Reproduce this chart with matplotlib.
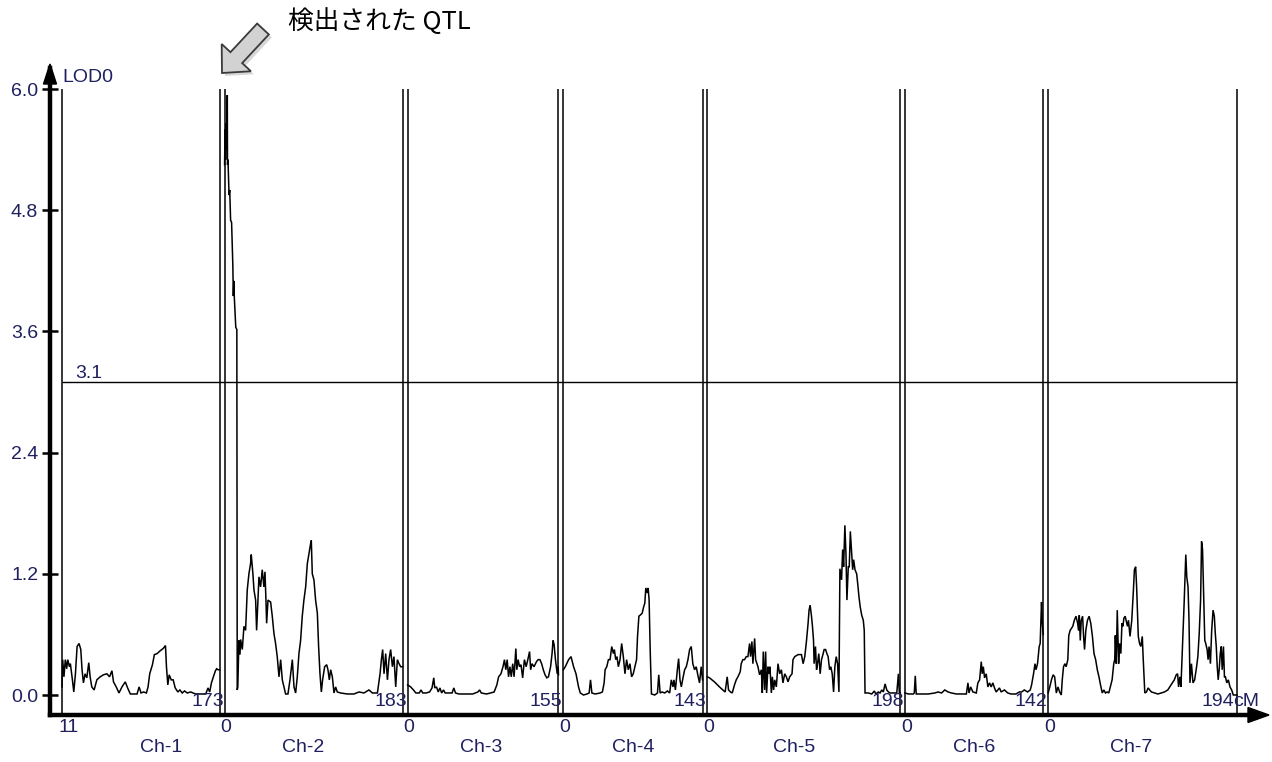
import matplotlib
matplotlib.use("Agg")
import matplotlib.pyplot as plt
from matplotlib.patches import Polygon, FancyArrow
from matplotlib.transforms import IdentityTransform

plt.rcParams['font.family'] = ['Liberation Sans', 'DejaVu Sans']

# ---------------- data ----------------
chrom_names = ['Ch-1', 'Ch-2', 'Ch-3', 'Ch-4', 'Ch-5', 'Ch-6', 'Ch-7']
chrom_start = [11, 0, 0, 0, 0, 0, 0]
chrom_end = [173, 183, 155, 143, 198, 142, 194]
threshold = 3.1
y_ticks = [0.0, 1.2, 2.4, 3.6, 4.8, 6.0]
y_tick_labels = ['0.0', '1.2', '2.4', '3.6', '4.8', '6.0']
annotation_text = '検出された QTL'

# (cM, LOD) profiles per chromosome
ch1 = [(11, 0.08), (11.7, 0.35), (13, 0.18), (14.4, 0.35), (15.8, 0.26), (16.9, 0.35), (18.6, 0.28),
       (19.6, 0.31), (21.7, 0.15), (23.1, 0.03), (24.8, 0.21), (26.5, 0.48), (28.5, 0.51), (30.3, 0.45),
       (31.6, 0.25), (33, 0.12), (34.7, 0.21), (36.5, 0.17), (38.5, 0.32), (39.9, 0.18), (41.6, 0.08),
       (44, 0.05), (46.8, 0.15), (50.2, 0.18), (53.6, 0.20), (57.1, 0.21), (59.8, 0.18), (62.3, 0.24),
       (63.9, 0.13), (66.7, 0.08), (69.5, 0.02), (72.6, 0.08), (76, 0.13), (78.4, 0.07), (81.2, 0.01),
       (88.1, 0.01), (90.2, 0.08), (92.2, 0.02), (94.9, 0.03), (97.7, 0.02), (99.4, 0.08), (101.1, 0.21),
       (103.9, 0.30), (105.9, 0.40), (108.7, 0.41), (112.1, 0.44), (114.9, 0.46), (117.3, 0.49),
       (118.3, 0.28), (119.7, 0.10), (121.1, 0.20), (123.2, 0.15), (125.2, 0.15), (127.3, 0.07),
       (130, 0.03), (132.1, 0.05), (134.5, 0.02), (136.9, 0.04), (139.7, 0.02), (143.1, 0.03),
       (148.3, 0.01), (153.4, 0.01), (158.6, 0.01), (161, 0.07), (162.7, 0.03), (164.5, 0.12),
       (166.5, 0.18), (168.6, 0.24), (169.9, 0.26), (171.3, 0.25), (173, 0.25)]

ch2 = [(0, 5.25), (0.5, 5.6), (1.0, 5.3), (1.5, 5.66), (2.0, 5.4), (2.8, 5.94), (3.0, 5.25), (3.5, 5.3),
       (4.6, 4.95), (5.3, 5.0), (6.2, 4.7), (7.2, 4.68), (8.5, 4.25), (9.0, 3.95), (9.5, 4.1), (10.0, 3.94),
       (11.5, 3.64), (12.6, 3.62), (13.0, 0.05), (13.6, 0.08), (14.7, 0.54), (15.8, 0.40), (16.5, 0.55),
       (18.2, 0.45), (19.9, 0.68), (21.6, 0.64), (23.3, 1.04), (25.0, 1.20), (26.7, 1.30), (27.4, 1.39),
       (29.1, 1.20), (30.2, 1.04), (31.9, 0.94), (32.9, 0.64), (34.3, 0.94), (35.3, 1.17), (37.0, 1.07),
       (38.7, 1.24), (40.4, 1.07), (41.5, 1.22), (42.5, 0.94), (43.2, 0.71), (44.6, 0.94), (47.3, 0.92),
       (49.0, 0.78), (50.7, 0.61), (52.4, 0.51), (54.1, 0.38), (55.9, 0.18), (57.6, 0.35), (59.3, 0.15),
       (61.0, 0.08), (62.7, 0.01), (65.1, 0.01), (67.2, 0.15), (69.6, 0.35), (71.3, 0.08), (73.0, 0.02),
       (74.7, 0.18), (76.4, 0.41), (78.1, 0.54), (79.8, 0.78), (81.5, 0.94), (83.3, 1.07), (85.0, 1.30),
       (86.7, 1.40), (88.4, 1.50), (89.1, 1.53), (90.1, 1.20), (91.8, 1.14), (93.5, 0.94), (95.3, 0.81),
       (96.6, 0.48), (98.0, 0.21), (99.4, 0.03), (100.7, 0.15), (102.8, 0.28), (104.9, 0.30),
       (106.2, 0.25), (107.6, 0.15), (109.0, 0.25), (110.7, 0.18), (112.4, 0.02), (114.1, 0.08),
       (115.8, 0.03), (119.2, 0.02), (126.1, 0.01), (132.9, 0.01), (138.1, 0.03), (143.2, 0.02),
       (148.3, 0.05), (151.8, 0.02), (157.0, 0.02), (159.7, 0.21), (161.1, 0.35), (162.4, 0.45),
       (163.8, 0.21), (165.5, 0.41), (167.3, 0.15), (168.9, 0.35), (170.6, 0.45), (172.4, 0.28),
       (174.0, 0.38), (175.8, 0.08), (177.5, 0.35), (179.2, 0.31), (180.9, 0.28), (183.0, 0.28)]

ch3 = [(0, 0.10), (3.2, 0.08), (6.0, 0.05), (8.5, 0.02), (12.0, 0.02), (13.8, 0.05), (15.6, 0.02),
       (19.1, 0.02), (22.6, 0.03), (25.1, 0.07), (26.9, 0.17), (27.9, 0.07), (29.7, 0.08), (31.5, 0.03),
       (33.2, 0.07), (35.0, 0.02), (36.9, 0.05), (38.6, 0.02), (42.2, 0.02), (45.7, 0.02), (47.5, 0.07),
       (49.2, 0.02), (52.8, 0.01), (59.8, 0.01), (66.9, 0.01), (72.2, 0.03), (74.0, 0.05), (75.7, 0.02),
       (81.0, 0.01), (85.3, 0.02), (88.9, 0.03), (91.7, 0.10), (93.5, 0.18), (95.9, 0.21), (98.0, 0.28),
       (99.5, 0.35), (100.9, 0.25), (102.3, 0.35), (103.7, 0.18), (105.1, 0.28), (106.5, 0.18),
       (108.0, 0.31), (109.4, 0.18), (111.2, 0.46), (112.2, 0.25), (113.6, 0.35), (115.0, 0.28),
       (116.5, 0.30), (118.2, 0.17), (120.0, 0.35), (121.8, 0.28), (123.5, 0.35), (125.3, 0.43),
       (126.4, 0.25), (127.8, 0.31), (129.9, 0.28), (132.4, 0.33), (134.1, 0.35), (135.9, 0.35),
       (137.7, 0.31), (139.4, 0.25), (141.2, 0.20), (143.0, 0.17), (144.7, 0.18), (146.9, 0.28),
       (148.4, 0.41), (149.4, 0.54), (150.5, 0.50), (151.9, 0.35), (153.7, 0.21), (154.7, 0.28),
       (155.0, 0.20)]

ch4 = [(0, 0.25), (2.0, 0.28), (5.4, 0.35), (7.9, 0.38), (10.5, 0.28), (13.0, 0.21), (15.6, 0.08),
       (17.4, 0.02), (20.7, 0.0), (24.2, 0.01), (26.5, 0.02), (27.9, 0.15), (29.3, 0.02), (32.7, 0.01),
       (37.8, 0.02), (40.1, 0.03), (41.9, 0.12), (42.9, 0.25), (44.6, 0.28), (46.3, 0.35), (48.0, 0.35),
       (49.7, 0.48), (51.4, 0.41), (52.4, 0.45), (53.8, 0.35), (55.1, 0.38), (56.5, 0.28), (58.2, 0.35),
       (59.9, 0.51), (61.6, 0.38), (63.3, 0.21), (65.0, 0.35), (66.7, 0.25), (68.4, 0.31), (70.1, 0.18),
       (71.8, 0.21), (73.5, 0.28), (75.2, 0.35), (76.2, 0.58), (77.6, 0.78), (78.9, 0.79), (81.0, 0.81),
       (82.4, 0.87), (83.7, 0.91), (84.7, 1.06), (86.1, 1.01), (87.1, 1.06), (88.1, 0.94), (89.2, 0.45),
       (90.5, 0.01), (93.9, 0.0), (96.7, 0.02), (98.0, 0.20), (99.4, 0.02), (101.4, 0.03), (104.1, 0.02),
       (106.9, 0.04), (109.2, 0.02), (110.9, 0.15), (112.6, 0.08), (113.6, 0.15), (115.1, 0.05),
       (117.1, 0.25), (118.4, 0.36), (119.8, 0.15), (121.2, 0.08), (122.9, 0.17), (124.6, 0.25),
       (126.3, 0.28), (128.0, 0.35), (129.7, 0.45), (131.4, 0.48), (133.0, 0.31), (134.8, 0.25),
       (136.5, 0.28), (138.1, 0.20), (139.9, 0.12), (141.6, 0.28), (143.0, 0.15)]

ch5 = [(0, 0.18), (2.1, 0.17), (7.2, 0.13), (12.4, 0.08), (15.8, 0.05), (18.2, 0.03), (20.3, 0.18),
       (21.7, 0.05), (23.7, 0.03), (25.5, 0.02), (27.8, 0.10), (29.6, 0.15), (31.3, 0.18), (33.7, 0.23),
       (34.7, 0.31), (36.4, 0.35), (38.1, 0.35), (39.9, 0.38), (41.6, 0.38), (43.3, 0.51), (44.3, 0.38),
       (45.7, 0.53), (46.7, 0.31), (48.5, 0.56), (49.5, 0.35), (50.9, 0.31), (51.9, 0.28), (53.6, 0.20),
       (55.4, 0.25), (56.4, 0.02), (57.4, 0.43), (58.8, 0.05), (59.8, 0.43), (60.8, 0.02), (62.2, 0.28),
       (63.2, 0.21), (64.2, 0.28), (65.7, 0.02), (66.7, 0.18), (68.0, 0.05), (69.1, 0.15), (70.8, 0.08),
       (72.5, 0.31), (74.2, 0.21), (76.0, 0.25), (77.6, 0.12), (79.4, 0.21), (81.1, 0.18), (82.8, 0.13),
       (84.5, 0.18), (86.9, 0.21), (87.9, 0.35), (89.7, 0.38), (93.1, 0.40), (96.6, 0.40), (98.3, 0.31),
       (100.0, 0.38), (101.8, 0.54), (103.4, 0.71), (104.4, 0.84), (105.5, 0.89), (106.9, 0.78),
       (107.9, 0.68), (109.0, 0.54), (109.6, 0.31), (111.0, 0.48), (112.1, 0.25), (113.1, 0.31),
       (114.4, 0.41), (115.8, 0.21), (117.2, 0.35), (118.9, 0.41), (119.9, 0.45), (121.4, 0.45),
       (122.7, 0.41), (124.0, 0.38), (125.5, 0.25), (126.8, 0.28), (128.2, 0.21), (129.6, 0.03),
       (130.9, 0.28), (132.3, 0.38), (133.7, 0.31), (135.1, 0.03), (136.1, 1.25), (137.8, 1.14),
       (138.9, 1.44), (139.9, 1.27), (141.2, 1.68), (142.3, 1.40), (143.3, 0.94), (144.7, 1.27),
       (145.7, 1.27), (146.8, 1.62), (148.2, 1.40), (149.2, 1.24), (150.2, 1.34), (151.6, 1.24),
       (153.3, 1.20), (154.3, 1.11), (155.7, 0.97), (157.0, 0.87), (158.5, 0.79), (160.1, 0.74),
       (161.1, 0.64), (161.9, 0.02), (165.3, 0.02), (168.8, 0.01), (171.5, 0.04), (172.9, 0.01),
       (175.6, 0.03), (177.3, 0.02), (179.1, 0.05), (180.7, 0.03), (182.5, 0.11), (184.2, 0.05),
       (185.9, 0.03), (187.6, 0.02), (191.1, 0.02), (194.5, 0.02), (196.2, 0.21), (197.2, 0.01),
       (198.0, 0.02)]

ch6 = [(0, 0.02), (3.4, 0.01), (8.5, 0.01), (9.5, 0.02), (10.5, 0.19), (11.5, 0.01), (17.0, 0.01),
       (23.8, 0.01), (30.6, 0.02), (34.0, 0.03), (37.5, 0.02), (40.8, 0.05), (44.2, 0.03), (47.7, 0.02),
       (52.8, 0.01), (57.9, 0.01), (63.0, 0.01), (64.6, 0.12), (65.7, 0.02), (67.4, 0.08), (69.7, 0.03),
       (73.2, 0.02), (74.8, 0.12), (76.6, 0.15), (78.3, 0.33), (79.3, 0.21), (80.4, 0.28), (81.7, 0.17),
       (83.4, 0.21), (85.1, 0.08), (86.8, 0.12), (88.5, 0.08), (90.2, 0.12), (91.9, 0.07), (93.6, 0.03),
       (95.3, 0.05), (97.0, 0.07), (98.7, 0.03), (102.1, 0.05), (105.5, 0.02), (108.9, 0.01),
       (114.0, 0.01), (117.4, 0.03), (119.8, 0.03), (122.5, 0.05), (125.9, 0.03), (128.6, 0.05),
       (130.0, 0.10), (132.0, 0.21), (133.5, 0.31), (134.5, 0.25), (136.1, 0.31), (137.8, 0.48),
       (138.8, 0.51), (140.2, 0.92), (140.9, 0.74), (141.6, 0.64), (142.0, 0.60)]

ch7 = [(0, 0.02), (1.7, 0.08), (3.4, 0.15), (5.1, 0.20), (6.7, 0.18), (8.4, 0.02), (10.1, 0.08),
       (11.8, 0.03), (13.5, 0.0), (14.5, 0.15), (15.8, 0.28), (17.2, 0.31), (18.5, 0.28), (20.2, 0.35),
       (21.2, 0.59), (22.6, 0.64), (25.3, 0.68), (26.9, 0.74), (28.6, 0.78), (30.3, 0.71), (31.3, 0.64),
       (32.0, 0.79), (33.0, 0.54), (34.0, 0.74), (35.4, 0.78), (36.4, 0.58), (37.4, 0.45), (38.7, 0.64),
       (40.4, 0.74), (42.1, 0.78), (43.8, 0.71), (45.5, 0.58), (47.1, 0.41), (48.8, 0.35), (50.5, 0.25),
       (52.2, 0.18), (53.8, 0.10), (55.6, 0.02), (57.2, 0.05), (58.9, 0.02), (60.6, 0.03), (62.3, 0.02),
       (63.9, 0.08), (65.7, 0.15), (67.4, 0.31), (68.4, 0.35), (69.0, 0.59), (70.0, 0.31), (71.0, 0.84),
       (72.4, 0.31), (73.4, 0.51), (74.7, 0.41), (75.8, 0.71), (76.8, 0.68), (77.8, 0.76), (79.1, 0.78),
       (80.1, 0.74), (81.5, 0.68), (82.5, 0.74), (84.1, 0.58), (85.9, 0.74), (87.6, 1.04), (88.6, 1.24),
       (89.9, 1.27), (90.9, 1.07), (92.6, 0.58), (93.9, 0.51), (95.2, 0.48), (96.7, 0.58), (97.7, 0.35),
       (99.3, 0.02), (101.0, 0.03), (102.7, 0.07), (104.3, 0.05), (106.1, 0.03), (109.4, 0.02),
       (112.8, 0.01), (116.2, 0.02), (119.5, 0.03), (122.9, 0.05), (126.3, 0.10), (129.6, 0.15),
       (131.6, 0.20), (133.0, 0.21), (134.0, 0.08), (135.3, 0.18), (136.4, 0.08), (138.1, 0.51),
       (139.7, 0.91), (141.4, 1.39), (142.4, 1.17), (143.7, 1.07), (144.7, 0.74), (145.7, 0.12),
       (147.2, 0.31), (148.8, 0.12), (150.5, 0.15), (152.5, 0.28), (153.8, 0.38), (155.2, 0.61),
       (156.6, 0.94), (157.6, 1.52), (158.6, 1.44), (159.9, 0.94), (160.9, 0.54), (161.9, 0.51),
       (163.3, 0.45), (164.3, 0.35), (165.3, 0.48), (166.7, 0.31), (168.0, 0.64), (169.4, 0.84),
       (170.7, 0.78), (171.7, 0.61), (172.7, 0.48), (173.7, 0.28), (174.7, 0.15), (175.7, 0.25),
       (176.8, 0.41), (177.8, 0.48), (178.8, 0.25), (180.1, 0.48), (181.1, 0.18), (182.1, 0.18),
       (183.5, 0.12), (185.1, 0.15), (186.8, 0.08), (188.5, 0.05), (190.2, 0.0), (194.0, 0.0)]

profiles = [ch1, ch2, ch3, ch4, ch5, ch6, ch7]

# ---------------- layout ----------------
W, H = 1272, 762
AX_L, AX_R, AX_B, AX_T = 50, 1258, 715, 68      # axes box in pixels
X0_PX, X1_PX = 62, 1237                          # first / last chromosome line
Y0_PX, Y6_PX = 695, 89                           # LOD 0 and LOD 6 in pixels
GAP = 5                                          # gap between chromosomes (cM units)
LABEL_FRAC = [0.63, 0.44, 0.49, 0.50, 0.45, 0.50, 0.44]
NAVY = '#20205f'
FS = 14

offsets = []
pos = 0.0
for s, e in zip(chrom_start, chrom_end):
    offsets.append(pos - s)
    pos += (e - s) + GAP
G_END = pos - GAP

sx = (X1_PX - X0_PX) / G_END         # pixels per cM
sy = (Y0_PX - Y6_PX) / 6.0           # pixels per LOD

fig = plt.figure(figsize=(W / 100, H / 100), dpi=100)
fig.patch.set_facecolor('white')
ax = fig.add_axes([AX_L / W, (H - AX_B) / H, (AX_R - AX_L) / W, (AX_B - AX_T) / H])
ax.set_xlim((AX_L - X0_PX) / sx, (AX_R - X0_PX) / sx)
ylo = (Y0_PX - AX_B) / sy
ax.set_ylim(ylo, (Y0_PX - AX_T) / sy)

for sp in ['top', 'right']:
    ax.spines[sp].set_visible(False)
for sp in ['left', 'bottom']:
    ax.spines[sp].set_linewidth(3.2)
    ax.spines[sp].set_color('black')

ax.set_xticks([])
ax.set_yticks(y_ticks, labels=y_tick_labels)
ax.tick_params(axis='y', direction='inout', length=12, width=1.8, color='black',
               labelcolor=NAVY, labelsize=FS, pad=2.5)

# chromosome borders, profiles and labels
for k, prof in enumerate(profiles):
    off = offsets[k]
    xs = [off + c for c, _ in prof]
    ys = [v for _, v in prof]
    ax.plot(xs, ys, color='black', lw=1.1, solid_joinstyle='miter')
    x_s = off + chrom_start[k]
    x_e = off + chrom_end[k]
    ax.vlines([x_s, x_e], ylo, 6.0, color='black', lw=1.1)
    # start label under axis
    ax.text(x_s - 4 / sx, (Y0_PX - 727) / sy, str(chrom_start[k]), ha='left', va='center',
            color=NAVY, fontsize=FS)
    # end label
    if k < len(profiles) - 1:
        ax.text(x_e + 4 / sx, (Y0_PX - 702) / sy, str(chrom_end[k]), ha='right', va='center',
                color=NAVY, fontsize=FS)
    else:
        ax.text(x_e - 3 / sx, (Y0_PX - 702) / sy, str(chrom_end[k]), ha='right', va='center',
                color=NAVY, fontsize=FS)
        ax.text(x_e - 4 / sx, (Y0_PX - 702) / sy, 'cM', ha='left', va='center',
                color=NAVY, fontsize=FS)
    # chromosome name
    cx = x_s + LABEL_FRAC[k] * (chrom_end[k] - chrom_start[k])
    ax.text(cx, (Y0_PX - 748) / sy, chrom_names[k], ha='center', va='center',
            color=NAVY, fontsize=FS)

# threshold
ax.hlines(threshold, 0, G_END, color='black', lw=1.0)
ax.text(13 / sx, (Y0_PX - 378) / sy, f'{threshold:.1f}', ha='left', va='baseline',
        color=NAVY, fontsize=FS)

# axis label
fig.text(62 / W, 1 - 77 / H, 'LOD0', ha='left', va='center', color=NAVY, fontsize=FS)

# axis arrowheads (pixel coordinates)
ident = IdentityTransform()
def P(x, y):
    return (x, H - y)
fig.add_artist(Polygon([P(50, 64), P(43.5, 84), P(56.5, 84)], closed=True,
                       facecolor='black', edgecolor='black', transform=ident))
fig.add_artist(Polygon([P(1269, 715), P(1248, 707.5), P(1248, 722.5)], closed=True,
                       facecolor='black', edgecolor='black', transform=ident))

# grey block arrow pointing at the QTL
tail = P(263, 29)
tip = P(222, 73)
shadow = FancyArrow(tail[0] + 3, tail[1] - 3, tip[0] - tail[0], tip[1] - tail[1], width=16,
                    head_width=40, head_length=21, length_includes_head=True,
                    facecolor='#bdbdbd', edgecolor='none', alpha=0.6, transform=ident)
fig.add_artist(shadow)
arrow = FancyArrow(tail[0], tail[1], tip[0] - tail[0], tip[1] - tail[1], width=16,
                   head_width=40, head_length=21, length_includes_head=True,
                   facecolor='#d2d2d2', edgecolor='#3a3a3a', lw=1.3, transform=ident)
fig.add_artist(arrow)

fig.text(288 / W, 1 - 22 / H, annotation_text, ha='left', va='center', fontsize=18.5,
         color='black', family=['Noto Sans CJK JP', 'DejaVu Sans'])

fig.savefig('out.png', dpi=100, facecolor='white')
